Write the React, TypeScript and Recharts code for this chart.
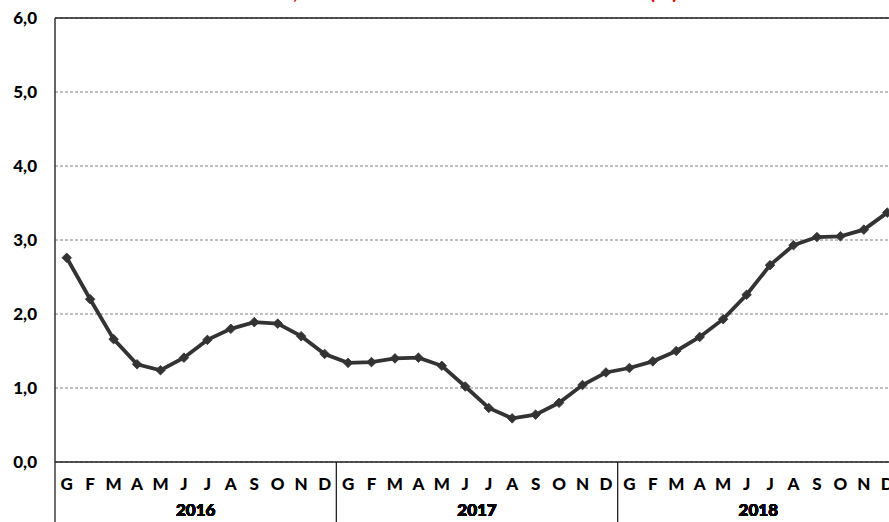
import React from 'react';
import { LineChart, Line, XAxis, YAxis, CartesianGrid, ReferenceLine } from 'recharts';

const years = ['2016', '2017', '2018'];
const months = ['G', 'F', 'M', 'A', 'M', 'J', 'J', 'A', 'S', 'O', 'N', 'D'];
const values2016 = [2.76, 2.2, 1.66, 1.32, 1.24, 1.41, 1.65, 1.8, 1.89, 1.87, 1.7, 1.46];
const values2017 = [1.34, 1.35, 1.4, 1.41, 1.3, 1.02, 0.73, 0.59, 0.64, 0.8, 1.04, 1.21];
const values2018 = [1.27, 1.36, 1.5, 1.69, 1.93, 2.26, 2.66, 2.93, 3.04, 3.05, 3.14, 3.37];
const yTicks = [0, 1, 2, 3, 4, 5, 6];
const title = 'USA, tasso di inflazione al consumo annuo (%)';

const seriesByYear = [values2016, values2017, values2018];
const data = years.flatMap((yr, yi) =>
  months.map((m, mi) => ({ key: `${yr}-${mi}`, month: m, mi, year: yr, value: seriesByYear[yi][mi] }))
);

const FONT = 'Lato, "Open Sans", sans-serif';

const MonthTick = (props: any) => {
  const { x, y, payload, index } = props;
  const row = data[index] || data.find((d) => d.key === payload.value);
  const off = payload.offset || 0;
  return (
    <g>
      {row && row.mi === 0 && (
        <line x1={x - off} x2={x - off} y1={y} y2={y + 70} stroke="#222" strokeWidth={1.3} />
      )}
      <text x={x} y={y + 28} textAnchor="middle" fontFamily={FONT} fontWeight={900} fontSize={17} fill="#000">
        {row ? row.month : ''}
      </text>
    </g>
  );
};

const YearTick = (props: any) => {
  const { x, y, payload } = props;
  return (
    <text x={x} y={y + 24} textAnchor="middle" fontFamily={FONT} fontWeight={900} fontSize={17} fill="#000">
      {payload.value}
    </text>
  );
};

const Diamond = (props: any) => {
  const { cx, cy } = props;
  if (cx == null || cy == null) return null;
  const s = 4.8;
  return <path d={`M${cx},${cy - s}L${cx + s},${cy}L${cx},${cy + s}L${cx - s},${cy}Z`} fill="#333" stroke="#333" strokeWidth={0.8} />;
};

export default function App() {
  return (
    <div style={{ position: 'absolute', left: 0, top: 0, width: 889, height: 522, overflow: 'hidden', background: '#fff' }}>
      <LineChart width={900} height={522} data={data} margin={{ top: 18, right: 1, bottom: 0, left: 0 }}>
        <text x={678} y={-1} textAnchor="end" fontFamily={FONT} fontWeight={700} fontSize={21} fill="#e00000">
          {title}
        </text>
        <CartesianGrid vertical={false} stroke="#808080" strokeDasharray="3 2" />
        <ReferenceLine y={6} stroke="#222" strokeWidth={1.3} ifOverflow="visible" />
        <XAxis
          xAxisId="m"
          dataKey="key"
          type="category"
          scale="band"
          interval={0}
          tickSize={0}
          tickMargin={0}
          height={30}
          axisLine={{ stroke: '#222', strokeWidth: 1.5 }}
          tickLine={false}
          tick={<MonthTick />}
        />
        <XAxis
          xAxisId="y"
          dataKey="year"
          type="category"
          scale="band"
          allowDuplicatedCategory={false}
          interval={0}
          tickSize={0}
          tickMargin={0}
          height={30}
          axisLine={false}
          tickLine={false}
          tick={<YearTick />}
        />
        <YAxis
          domain={[0, 6]}
          ticks={yTicks}
          width={55}
          tickSize={0}
          tickMargin={18}
          axisLine={{ stroke: '#333', strokeWidth: 1.5 }}
          tickLine={false}
          tick={{ fontFamily: FONT, fontWeight: 900, fontSize: 17, fill: '#000' }}
          tickFormatter={(v: number) => v.toFixed(1).replace('.', ',')}
        />
        <Line
          xAxisId="m"
          type="linear"
          dataKey="value"
          stroke="#333"
          strokeWidth={3.8}
          dot={<Diamond />}
          activeDot={false}
          isAnimationActive={false}
        />
      </LineChart>
    </div>
  );
}
